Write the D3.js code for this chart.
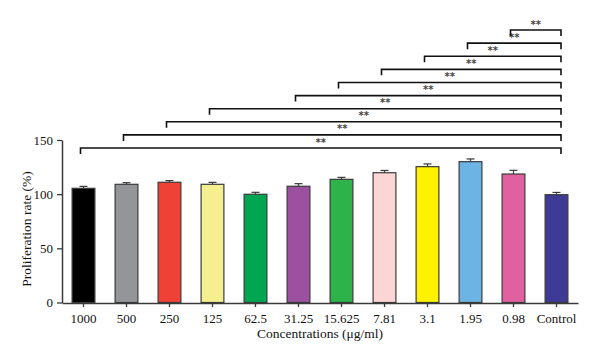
<!DOCTYPE html>
<html><head><meta charset="utf-8">
<script src="https://cdn.jsdelivr.net/npm/d3@7"></script>
<style>body{margin:0;background:#fff}svg{display:block}</style>
</head><body>
<svg id="c" width="600" height="362"></svg>
<script>
const categories = ["1000","500","250","125","62.5","31.25","15.625","7.81","3.1","1.95","0.98","Control"];
const values = [105.4,109.1,111.0,109.1,99.9,107.3,113.7,119.8,125.4,130.0,118.6,99.5];
const errors = [1.8,1.5,1.5,1.8,1.8,2.4,1.8,2.1,2.5,2.5,3.4,2.1];
const colors = ["#000000","#939598","#ef4136","#f6ef8f","#00a651","#9b51a0","#2db34a","#fdd5d5","#fff200","#6cb4e4","#e060a0","#3f3a96"];
const yTicks = [0,50,100,150];
// significance comparisons vs Control (bottom to top)
const comparisons = ["1000","500","250","125","31.25","15.625","7.81","3.1","1.95","0.98"];
const sigLabel = "**";

const svg = d3.select("#c");
const font = "'Liberation Serif','Times New Roman',serif";
const x = d3.scaleBand().domain(categories).range([62,578]).paddingInner(0.47).paddingOuter(0.235);
const y = d3.scaleLinear().domain([0,150]).range([302.5,140]);

// bars
svg.append("g").selectAll("rect").data(categories).join("rect")
  .attr("x", d => x(d)).attr("width", x.bandwidth())
  .attr("y", (d,i) => y(values[i])).attr("height", (d,i) => y(0) - y(values[i]))
  .attr("fill", (d,i) => colors[i]).attr("stroke", "#3a3a3a").attr("stroke-width", 1.2);

// error bars (upper)
const eb = svg.append("g").attr("stroke", "#3a3a3a").attr("stroke-width", 1.2);
categories.forEach((d,i) => {
  const cx = x(d) + x.bandwidth()/2;
  eb.append("line").attr("x1",cx).attr("x2",cx).attr("y1",y(values[i])).attr("y2",y(values[i]+errors[i]));
  eb.append("line").attr("x1",cx-4).attr("x2",cx+4).attr("y1",y(values[i]+errors[i])).attr("y2",y(values[i]+errors[i]));
});

// axes
const gx = svg.append("g").attr("transform","translate(0,303)")
  .call(d3.axisBottom(x).tickSize(4).tickSizeOuter(0));
const gy = svg.append("g").attr("transform","translate(62,0)")
  .call(d3.axisLeft(y).tickValues(yTicks).tickSize(5).tickSizeOuter(0));
[gx,gy].forEach(g => {
  g.select(".domain").attr("stroke","#3a3a3a").attr("stroke-width",1.5);
  g.selectAll(".tick line").attr("stroke","#3a3a3a").attr("stroke-width",1.3);
  g.selectAll("text").attr("fill","#111").style("font-family",font).style("font-size","13px");
});
gx.selectAll("text").attr("dy","1.0em");
gy.selectAll("text").attr("dx","-1px");

// axis titles
svg.append("text").attr("x",320).attr("y",338).attr("text-anchor","middle")
  .style("font-family",font).style("font-size","13.5px").attr("fill","#111")
  .text("Concentrations (μg/ml)");
svg.append("text").attr("transform","translate(31,229) rotate(-90)").attr("text-anchor","middle")
  .style("font-family",font).style("font-size","13.5px").attr("fill","#111")
  .text("Proliferation rate (%)");

// significance brackets
const bg = svg.append("g");
const ctrlX = x("Control") + x.bandwidth()/2 + 4.5;
comparisons.forEach((c,k) => {
  const yy = y(142.6 + k*12.1);
  const lx = x(c) + x.bandwidth()/2 - 3;
  bg.append("path")
    .attr("d", `M${lx},${yy+6}V${yy}H${ctrlX}V${yy+6}`)
    .attr("fill","none").attr("stroke","#111").attr("stroke-width",1.6);
  bg.append("text").attr("x",(lx+ctrlX)/2).attr("y",yy-2.5).attr("text-anchor","middle")
    .style("font-family","'DejaVu Sans',sans-serif").style("font-size","10px").style("font-weight","bold").attr("fill","#444")
    .text(sigLabel);
});
</script>
</body></html>
